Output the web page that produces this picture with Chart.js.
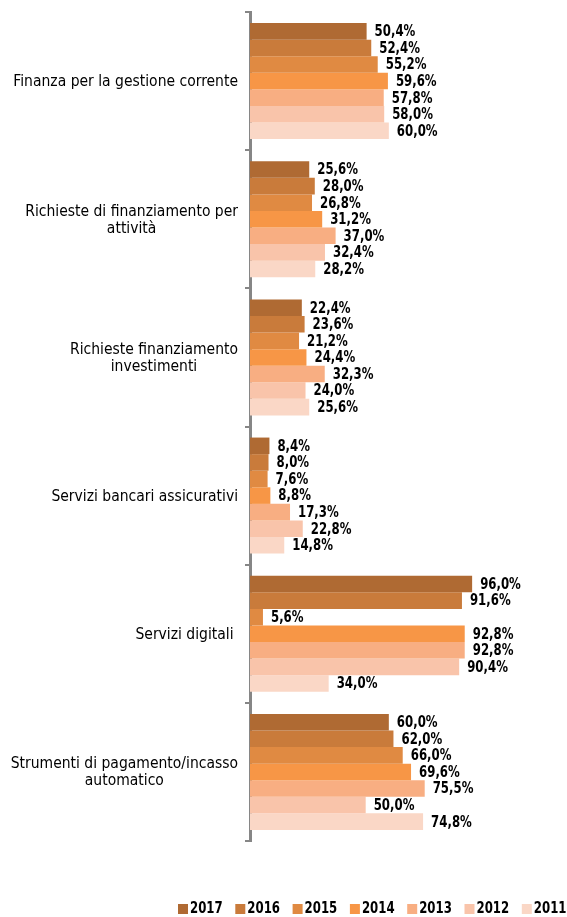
<!DOCTYPE html>
<html>
<head>
<meta charset="utf-8">
<script src="https://cdn.jsdelivr.net/npm/chart.js@4/dist/chart.umd.min.js"></script>
<style>
  html, body { margin: 0; padding: 0; background: #fff; overflow: hidden; }
  #wrap { width: 567px; height: 917px; position: relative; }
</style>
</head>
<body>
<div id="wrap"><canvas id="c"></canvas></div>
<script>
const categories = [
  ["Finanza per la gestione corrente"],
  ["Richieste di finanziamento per", "attività"],
  ["Richieste finanziamento", "investimenti"],
  ["Servizi bancari assicurativi"],
  ["Servizi digitali "],
  ["Strumenti di pagamento/incasso", "automatico"]
];
const years = ["2017", "2016", "2015", "2014", "2013", "2012", "2011"];
const v2017 = [50.4, 25.6, 22.4, 8.4, 96.0, 60.0];
const v2016 = [52.4, 28.0, 23.6, 8.0, 91.6, 62.0];
const v2015 = [55.2, 26.8, 21.2, 7.6, 5.6, 66.0];
const v2014 = [59.6, 31.2, 24.4, 8.8, 92.8, 69.6];
const v2013 = [57.8, 37.0, 32.3, 17.3, 92.8, 75.5];
const v2012 = [58.0, 32.4, 24.0, 22.8, 90.4, 50.0];
const v2011 = [60.0, 28.2, 25.6, 14.8, 34.0, 74.8];
const seriesValues = [v2017, v2016, v2015, v2014, v2013, v2012, v2011];
const colors = ["#AF6A33", "#C97B3B", "#E08A42", "#F79646", "#F8AE82", "#F9C4AA", "#FAD7C6"];

const FONT = "'DejaVu Sans Condensed', 'DejaVu Sans', sans-serif";

function scaledText(ctx, txt, x, y, sx) {
  ctx.save();
  ctx.translate(x, y);
  ctx.scale(sx, 1);
  ctx.fillText(txt, 0, 0);
  ctx.restore();
}

const labelPlugin = {
  id: 'customLabels',
  afterDatasetsDraw(chart) {
    const ctx = chart.ctx;
    const yScale = chart.scales.y;
    const area = chart.chartArea;
    ctx.save();
    // data labels
    ctx.font = "bold 15px " + FONT;
    ctx.fillStyle = "#000";
    ctx.textAlign = "left";
    ctx.textBaseline = "middle";
    chart.data.datasets.forEach((ds, di) => {
      const meta = chart.getDatasetMeta(di);
      meta.data.forEach((bar, i) => {
        const txt = ds.data[i].toFixed(1).replace('.', ',') + '%';
        scaledText(ctx, txt, bar.x + 8, bar.y + 1, 0.87);
      });
    });
    // category labels
    ctx.font = "15.5px " + FONT;
    ctx.textAlign = "center";
    const lh = 17;
    categories.forEach((lines, i) => {
      const y = yScale.getPixelForValue(i);
      let maxW = 0;
      lines.forEach(l => { maxW = Math.max(maxW, ctx.measureText(l).width); });
      const cx = area.left - 12 - maxW / 2;
      lines.forEach((l, k) => {
        ctx.fillText(l, cx, y + 1 + (k - (lines.length - 1) / 2) * lh);
      });
    });
    // legend
    ctx.font = "bold 15px " + FONT;
    ctx.textAlign = "left";
    const legX = 178, legStride = 57.3, legY = 909;
    chart.data.datasets.forEach((ds, di) => {
      const bx = legX + di * legStride;
      ctx.fillStyle = ds.backgroundColor;
      ctx.fillRect(bx, legY - 5, 10, 10);
      ctx.fillStyle = "#000";
      scaledText(ctx, ds.label, bx + 12, legY, 0.87);
    });
    ctx.restore();
  }
};

new Chart(document.getElementById('c'), {
  type: 'bar',
  data: {
    labels: categories.map(c => c.join(' ')),
    datasets: years.map((y, i) => ({
      label: y,
      data: seriesValues[i],
      backgroundColor: colors[i],
      borderWidth: 0,
      barPercentage: 1.0,
      categoryPercentage: 0.84
    }))
  },
  options: {
    indexAxis: 'y',
    responsive: true,
    maintainAspectRatio: false,
    animation: false,
    layout: { padding: { top: 12, right: 0, bottom: 0, left: 0 } },
    scales: {
      x: {
        min: 0, max: 137,
        display: true,
        grid: { display: false },
        border: { display: false },
        ticks: { display: false },
        afterFit(s) { s.height = 76; }
      },
      y: {
        grid: { display: true, drawOnChartArea: false, drawTicks: true, tickLength: 5, color: '#868686', lineWidth: 2, offset: true },
        border: { display: true, color: '#868686', width: 3 },
        ticks: { display: true, callback: () => '' },
        afterFit(s) { s.width = 250; }
      }
    },
    plugins: {
      legend: { display: false },
      tooltip: { enabled: false }
    }
  },
  plugins: [labelPlugin]
});
</script>
</body>
</html>
